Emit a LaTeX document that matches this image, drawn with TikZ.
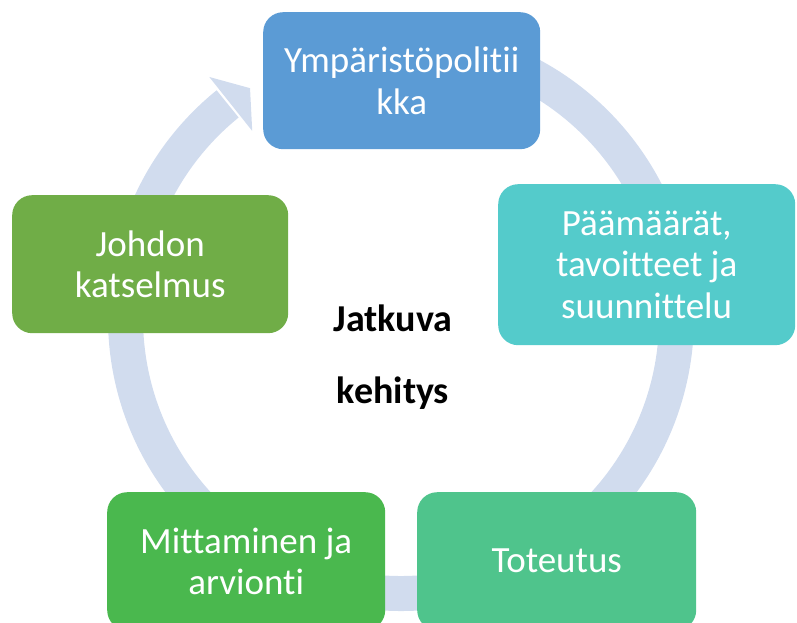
\documentclass[tikz,border=0pt]{standalone}
\usepackage{fontspec}
\setmainfont{Carlito}[Ligatures=NoCommon]
\usetikzlibrary{calc}
\definecolor{ringc}{HTML}{D1DCEE}
\definecolor{cpol}{HTML}{5B9BD5}
\definecolor{cgoal}{HTML}{54CBCB}
\definecolor{cimpl}{HTML}{4FC48C}
\definecolor{cmeas}{HTML}{4AB84E}
\definecolor{crev}{HTML}{70AD47}
\begin{document}
\begin{tikzpicture}[x=1pt,y=-1pt,
  box/.style={rounded corners=20pt, anchor=north west, inner sep=0pt,
    text=white, align=center, font=\fontsize{37}{41.5}\selectfont},
  ring/.style={fill=ringc}]
\useasboundingbox (0,0) rectangle (797,623);
\clip (0,0) rectangle (797,623);
\coordinate (c) at (401,318);
% ring with arrowhead
\fill[ring] ($(c)+(-129:293)$) arc[start angle=-129, end angle=-455, radius=293]
  -- ($(c)+(-455:258)$) arc[start angle=-455, end angle=-129, radius=258] -- cycle;
\fill[ring] ($(c)+(-128.5:308)$) -- ($(c)+(-123.3:275)$) -- ($(c)+(-128.5:239)$) -- cycle;
% boxes
\node[box, fill=cpol, minimum width=277pt, minimum height=137pt] (pol) at (263,12) {Ympäristöpolitii\\kka};
\node[box, fill=cgoal, minimum width=297pt, minimum height=161pt] (goal) at (498,184) {Päämäärät,\\tavoitteet ja\\suunnittelu};
\node[box, fill=cimpl, minimum width=279pt, minimum height=138pt] (impl) at (417,492) {Toteutus};
\node[box, fill=cmeas, minimum width=278pt, minimum height=138pt] (meas) at (107,492) {Mittaminen ja\\arvionti};
\node[box, fill=crev, minimum width=276pt, minimum height=138pt] (rev) at (12,195) {Johdon\\katselmus};
% centre text
\node[font=\bfseries\fontsize{38}{72}\selectfont, align=center, inner sep=0pt] (ctr) at (393,357) {Jatkuva\\kehitys};
\end{tikzpicture}
\end{document}
